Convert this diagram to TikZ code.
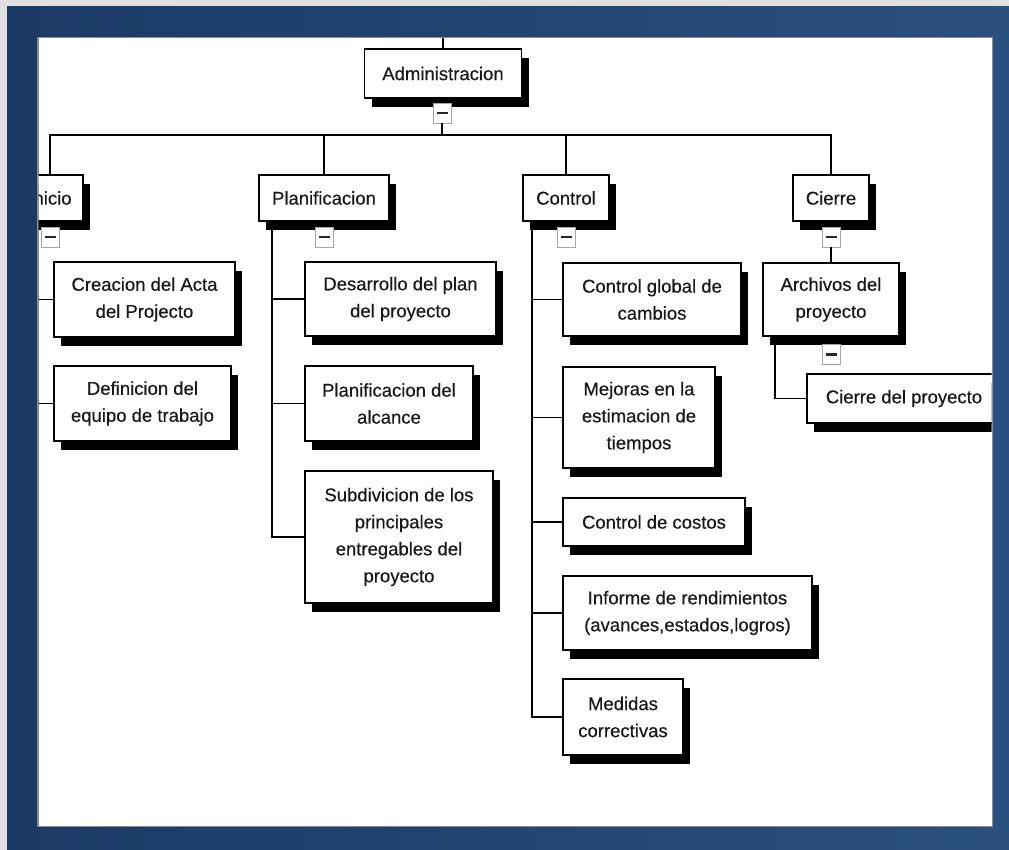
\documentclass[tikz,border=0pt]{standalone}
\usepackage{fontspec}
\setmainfont{Liberation Sans}
\newfontfamily\boxfont{Liberation Sans}[FakeBold=0.4]
\definecolor{framedark}{RGB}{27,58,102}
\definecolor{framelight}{RGB}{42,80,128}
\begin{document}
\begin{tikzpicture}[x=1pt,y=-1pt,
  wbs/.style={draw=black, line width=1.9pt, fill=white, align=center, inner sep=2pt,
    font=\boxfont\fontsize{18.5}{27}\selectfont, text=black!90,
    preaction={fill=black, transform canvas={shift={(7pt,-9pt)}}}},
  fold/.style={draw=black!35, line width=0.9pt, fill=white, minimum width=18pt,
    minimum height=20pt, inner sep=0pt,
    path picture={\fill[black!85] ([xshift=-5.5pt,yshift=-1.4pt]path picture bounding box.center)
      rectangle ([xshift=5.5pt,yshift=1.4pt]path picture bounding box.center);}},
  link/.style={draw=black, line width=1.9pt}]
\useasboundingbox (0,0) rectangle (1009,850);

% window frame
\fill[black!12] (0,0) rectangle (1009,850);
\shade[left color=framedark, right color=framelight] (7,7) rectangle (1009,850);
\fill[white] (37,37) rectangle (993,827);
\draw[black!45, line width=1.5pt] (37.75,37.75) rectangle (992.25,826.25);

\begin{scope}
\clip (38.5,38.5) rectangle (991.5,825.5);

% top level
\node[wbs, minimum width=157pt, minimum height=49pt] (adm) at (443,73.5) {Administracion};
\node[fold] (adm-m) at (442,113) {};

% phases
\node[wbs, minimum width=66pt, minimum height=46pt] (ini) at (50,198) {Inicio};
\node[wbs, minimum width=130pt, minimum height=46pt] (plan) at (324,198) {Planificacion};
\node[wbs, minimum width=86pt, minimum height=46pt] (ctl) at (566,198) {Control};
\node[wbs, minimum width=76pt, minimum height=46pt] (cie) at (831,198) {Cierre};
\node[fold] (ini-m) at (50,237) {};
\node[fold] (plan-m) at (324,237) {};
\node[fold] (ctl-m) at (566,237) {};
\node[fold] (cie-m) at (831,237) {};

% Inicio
\node[wbs, minimum width=181pt, minimum height=75pt] (crea) at (144.5,299.5) {Creacion del Acta\\del Projecto};
\node[wbs, minimum width=177pt, minimum height=75pt] (defi) at (142.5,403.5) {Definicion del\\equipo de trabajo};

% Planificacion
\node[wbs, minimum width=191pt, minimum height=74pt] (desa) at (400.5,299) {Desarrollo del plan\\del proyecto};
\node[wbs, minimum width=168pt, minimum height=75pt] (alca) at (389,403.5) {Planificacion del\\alcance};
\node[wbs, minimum width=188pt, minimum height=132pt] (subd) at (399,537) {Subdivicion de los\\principales\\entregables del\\proyecto};

% Control
\node[wbs, minimum width=178pt, minimum height=73pt] (glob) at (652,299.5) {Control global de\\cambios};
\node[wbs, minimum width=152pt, minimum height=101pt] (mejo) at (639,417.5) {Mejoras en la\\estimacion de\\tiempos};
\node[wbs, minimum width=182pt, minimum height=48pt] (cost) at (654,522) {Control de costos};
\node[wbs, minimum width=249pt, minimum height=74pt] (info) at (687.5,613) {Informe de rendimientos\\(avances,estados,logros)};
\node[wbs, minimum width=120pt, minimum height=76pt] (medi) at (623,717) {Medidas\\correctivas};

% Cierre
\node[wbs, minimum width=136pt, minimum height=73pt] (arch) at (831,299.5) {Archivos del\\proyecto};
\node[fold] (arch-m) at (831,354.5) {};
\node[wbs, minimum width=194pt, minimum height=49pt] (cpro) at (904,398.5) {Cierre del proyecto};

% connectors
\coordinate (top) at (442,30);
\draw[link] (adm.north) -- (adm.north |- top);
\draw[link] (adm.south) -- (adm-m.north);
\draw[link] (adm-m.south) -- ++(0,12) coordinate (bus);
\draw[link] (ini.north) |- (bus) -| (cie.north);
\draw[link] (plan.north) -- (plan.north |- bus);
\draw[link] (ctl.north) -- (ctl.north |- bus);

\draw[link] (ini.south) -- (ini-m.north);
\draw[link] (plan.south) -- (plan-m.north);
\draw[link] (ctl.south) -- (ctl-m.north);
\draw[link] (cie.south) -- (cie-m.north);

\draw[link] ([xshift=14pt]ini.south west) |- (crea.west);
\draw[link] ([xshift=14pt]ini.south west) |- (defi.west);

\draw[link] ([xshift=13.5pt]plan.south west) |- (desa.west);
\draw[link] ([xshift=13.5pt]plan.south west) |- (alca.west);
\draw[link] ([xshift=13.5pt]plan.south west) |- (subd.west);

\draw[link] ([xshift=9.5pt]ctl.south west) |- (glob.west);
\draw[link] ([xshift=9.5pt]ctl.south west) |- (mejo.west);
\draw[link] ([xshift=9.5pt]ctl.south west) |- (cost.west);
\draw[link] ([xshift=9.5pt]ctl.south west) |- (info.west);
\draw[link] ([xshift=9.5pt]ctl.south west) |- (medi.west);

\draw[link] (cie-m.south) -- (arch.north);
\draw[link] (arch.south) -- (arch-m.north);
\draw[link] ([xshift=13pt]arch.south west) |- (cpro.west);
\end{scope}
\end{tikzpicture}
\end{document}
